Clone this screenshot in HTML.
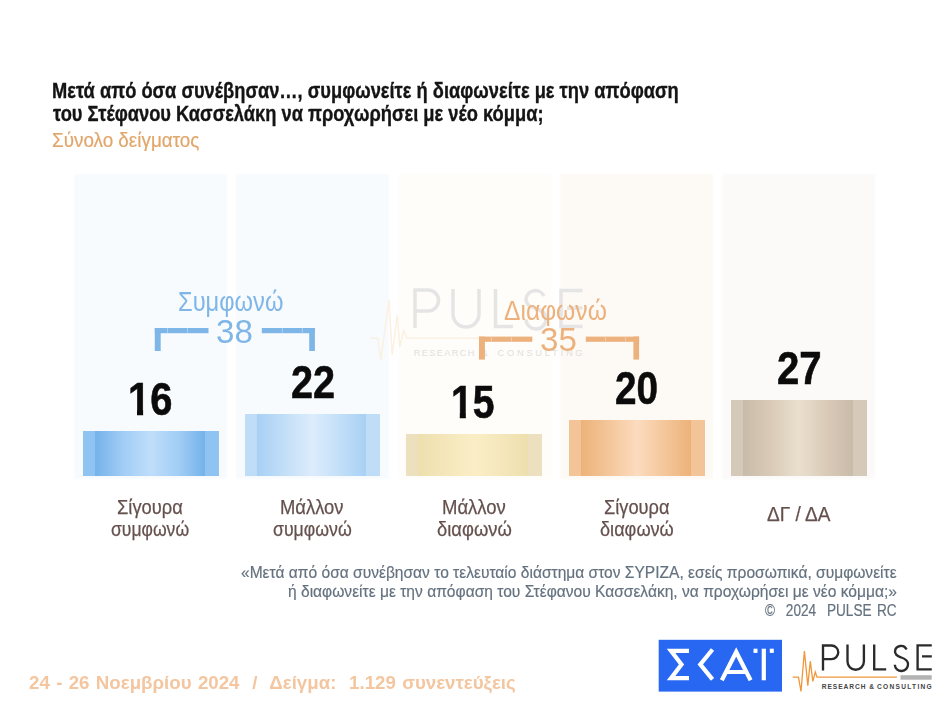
<!DOCTYPE html>
<html lang="el">
<head>
<meta charset="utf-8">
<title>Pulse RC</title>
<style>
html,body{margin:0;padding:0;background:#fff;}
body{width:949px;height:710px;position:relative;overflow:hidden;font-family:"Liberation Sans",sans-serif;}
.t{position:absolute;white-space:nowrap;transform-origin:0 0;line-height:1;}
.panel{position:absolute;top:174px;width:153px;height:304.5px;filter:blur(1px);}
.bar{position:absolute;}
.abs{position:absolute;left:0;top:0;}
</style>
</head>
<body>

<!-- panels -->
<div class="panel" style="left:74px;background:#f7fbfe;"></div>
<div class="panel" style="left:236px;background:#f7fbfe;"></div>
<div class="panel" style="left:398.3px;width:153.7px;background:#fefdfa;"></div>
<div class="panel" style="left:560px;background:#fdfaf5;"></div>
<div class="panel" style="left:722px;background:#fbfaf9;"></div>

<!-- watermark -->
<svg class="abs" width="949" height="710" viewBox="0 0 949 710" style="pointer-events:none">
  <g fill="none" stroke="#e5e5e5" stroke-width="3.5" stroke-linecap="butt" stroke-linejoin="miter">
    <path d="M415 328 V290 H428 a10.5 10.5 0 0 1 0 21 H415"/>
    <path d="M453 289 V314 a13 13 0 0 0 26 0 V289"/>
    <path d="M495.500 289 V326.5 H513"/>
    <path d="M544 296 a9.5 9.5 0 0 0 -18 3 c0 7 6 8 10 9.5 c5 1.800 10 4 10 10 a10 10 0 0 1 -20 1"/>
    <path d="M582.500 290.500 H561 V326.500 H582.500 M567 308 H582.500"/>
  </g>
  <polyline fill="none" stroke="#fcf0e1" stroke-width="1.500" points="370,338.300 377.700,338.300 380.800,359.700 389,300.200 392.200,354.700 397.300,315.400 399.800,347 403.600,330.600 406.800,338.300 479,338.300"/>
  <g font-family="Liberation Sans, sans-serif" font-size="9.2" font-weight="normal" fill="#e0e0e0">
    <text x="413.700" y="356.200" textLength="60.800" lengthAdjust="spacing">RESEARCH</text>
    <text x="481.500" y="356.200">&amp;</text>
    <text x="497.500" y="356.200" textLength="85" lengthAdjust="spacing">CONSULTING</text>
  </g>
</svg>

<!-- bars -->
<div class="bar" id="b1" style="left:82.5px;top:431.1px;width:136.3px;height:44.9px;background:linear-gradient(90deg,#8fc4f2 0%,#8fc4f2 8.5%,#74b2ea 8.7%,#a2cdf5 30%,#bfdefb 50%,#a2cdf5 70%,#74b2ea 89.8%,#8fc4f2 90.0%,#8fc4f2 100%);"></div>
<div class="bar" id="b2" style="left:244.8px;top:414.3px;width:135.2px;height:61.7px;background:linear-gradient(90deg,#c0ddf7 0%,#c0ddf7 8.5%,#a8d0f4 8.7%,#c3dff8 30%,#dcecfc 50%,#c3dff8 70%,#a8d0f4 89.8%,#c0ddf7 90.0%,#c0ddf7 100%);"></div>
<div class="bar" id="b3" style="left:406.2px;top:434px;width:136px;height:42px;background:linear-gradient(90deg,#ece0bf 0%,#ece0bf 8.5%,#eedfae 8.7%,#f5e7bb 30%,#fbeec6 50%,#f5e7bb 70%,#eedfae 89.8%,#ece0bf 90.0%,#ece0bf 100%);"></div>
<div class="bar" id="b4" style="left:569px;top:420px;width:136px;height:56px;background:linear-gradient(90deg,#f2c497 0%,#f2c497 8.5%,#ecb27a 8.7%,#f4c79b 30%,#fcdbbf 50%,#f4c79b 70%,#ecb27a 89.8%,#f2c497 90.0%,#f2c497 100%);"></div>
<div class="bar" id="b5" style="left:731px;top:400px;width:136px;height:75.5px;background:linear-gradient(90deg,#d5c9ba 0%,#d5c9ba 8.5%,#c9bba9 8.7%,#d9cbb8 30%,#eadfce 50%,#d9cbb8 70%,#c9bba9 89.8%,#d5c9ba 90.0%,#d5c9ba 100%);"></div>

<!-- brackets -->
<svg class="abs" width="949" height="710" viewBox="0 0 949 710" style="pointer-events:none">
  <g fill="#7fb6e8">
    <rect x="154.8" y="328" width="53.7" height="5.2"/>
    <rect x="154.8" y="328" width="5.9" height="23"/>
    <rect x="261.8" y="328" width="53.1" height="5.2"/>
    <rect x="309.2" y="328" width="5.7" height="23"/>
  </g>
  <rect x="167.0" y="328" width="0.8" height="5.2" fill="#b5d6f3"/><rect x="187.0" y="328" width="0.8" height="5.2" fill="#b5d6f3"/><rect x="281.9" y="328" width="0.8" height="5.2" fill="#b5d6f3"/><rect x="301.9" y="328" width="0.8" height="5.2" fill="#b5d6f3"/>
  <g fill="#ecb17c">
    <rect x="479" y="336.6" width="53.3" height="5.2"/>
    <rect x="479" y="336.6" width="5.9" height="23"/>
    <rect x="585.8" y="336.6" width="53.3" height="5.2"/>
    <rect x="633.4" y="336.6" width="5.7" height="23"/>
  </g>
  <rect x="491.2" y="336.6" width="0.8" height="5.2" fill="#f5d3b1"/><rect x="511.2" y="336.6" width="0.8" height="5.2" fill="#f5d3b1"/><rect x="605.0" y="336.6" width="0.8" height="5.2" fill="#f5d3b1"/><rect x="625.0" y="336.6" width="0.8" height="5.2" fill="#f5d3b1"/>
</svg>

<div class="t" id="t1" style="left:52.05px;top:79.55px;font-size:21.2px;color:#141414;transform:scaleX(0.8635);font-weight:bold;-webkit-text-stroke:0.35px #141414;">Μετά από όσα συνέβησαν…, συμφωνείτε ή διαφωνείτε με την απόφαση</div>
<div class="t" id="t2" style="left:53.20px;top:103.45px;font-size:21.2px;color:#141414;transform:scaleX(0.8636);font-weight:bold;-webkit-text-stroke:0.35px #141414;">του Στέφανου Κασσελάκη να προχωρήσει με νέο κόμμα;</div>
<div class="t" id="t3" style="left:52.24px;top:130.81px;font-size:19.6px;color:#e2a56a;transform:scaleX(0.9621);-webkit-text-stroke:0.2px #e2a56a;">Σύνολο δείγματος</div>
<div class="t" id="l1a" style="left:117.11px;top:496.78px;font-size:20.7px;color:#64504c;transform:scaleX(0.8862);-webkit-text-stroke:0.25px #64504c;">Σίγουρα</div>
<div class="t" id="l1b" style="left:111.33px;top:519.08px;font-size:20.7px;color:#64504c;transform:scaleX(0.8482);-webkit-text-stroke:0.25px #64504c;">συμφωνώ</div>
<div class="t" id="l2a" style="left:280.02px;top:496.78px;font-size:20.7px;color:#64504c;transform:scaleX(0.8899);-webkit-text-stroke:0.25px #64504c;">Μάλλον</div>
<div class="t" id="l2b" style="left:273.23px;top:519.08px;font-size:20.7px;color:#64504c;transform:scaleX(0.8548);-webkit-text-stroke:0.25px #64504c;">συμφωνώ</div>
<div class="t" id="l3a" style="left:442.21px;top:496.78px;font-size:20.7px;color:#64504c;transform:scaleX(0.8942);-webkit-text-stroke:0.25px #64504c;">Μάλλον</div>
<div class="t" id="l3b" style="left:437.11px;top:519.08px;font-size:20.7px;color:#64504c;transform:scaleX(0.8891);-webkit-text-stroke:0.25px #64504c;">διαφωνώ</div>
<div class="t" id="l4a" style="left:604.02px;top:496.78px;font-size:20.7px;color:#64504c;transform:scaleX(0.8821);-webkit-text-stroke:0.25px #64504c;">Σίγουρα</div>
<div class="t" id="l4b" style="left:599.92px;top:519.08px;font-size:20.7px;color:#64504c;transform:scaleX(0.8770);-webkit-text-stroke:0.25px #64504c;">διαφωνώ</div>
<div class="t" id="l5" style="left:767.29px;top:503.78px;font-size:20.7px;color:#64504c;transform:scaleX(0.9190);-webkit-text-stroke:0.25px #64504c;">ΔΓ / ΔΑ</div>
<div class="t" id="n1" style="left:127.61px;top:376.31px;font-size:46.3px;color:#0b0b0b;transform:scaleX(0.8617);font-weight:bold;-webkit-text-stroke:0.6px #0b0b0b;"><span style="display:inline-block;clip-path:polygon(0 0,0.6em 0,0.6em 0.722em,0.379em 0.722em,0.379em 1.1em,0.225em 1.1em,0.225em 0.722em,0 0.722em)">1</span>6</div>
<div class="t" id="n2" style="left:290.96px;top:359.11px;font-size:46.3px;color:#0b0b0b;transform:scaleX(0.8568);font-weight:bold;-webkit-text-stroke:0.6px #0b0b0b;">22</div>
<div class="t" id="n3" style="left:451.46px;top:379.01px;font-size:46.3px;color:#0b0b0b;transform:scaleX(0.8451);font-weight:bold;-webkit-text-stroke:0.6px #0b0b0b;"><span style="display:inline-block;clip-path:polygon(0 0,0.6em 0,0.6em 0.722em,0.379em 0.722em,0.379em 1.1em,0.225em 1.1em,0.225em 0.722em,0 0.722em)">1</span>5</div>
<div class="t" id="n4" style="left:615.28px;top:365.21px;font-size:46.3px;color:#0b0b0b;transform:scaleX(0.8363);font-weight:bold;-webkit-text-stroke:0.6px #0b0b0b;">20</div>
<div class="t" id="n5" style="left:777.24px;top:345.21px;font-size:46.3px;color:#0b0b0b;transform:scaleX(0.8669);font-weight:bold;-webkit-text-stroke:0.6px #0b0b0b;">27</div>
<div class="t" id="g1" style="left:177.86px;top:287.64px;font-size:27.6px;color:#7fb6e8;transform:scaleX(0.8584);">Συμφωνώ</div>
<div class="t" id="g1n" style="left:216.29px;top:314.67px;font-size:33.7px;color:#7fb6e8;transform:scaleX(0.9837);">38</div>
<div class="t" id="g2" style="left:504.31px;top:296.84px;font-size:27.6px;color:#ecb17c;transform:scaleX(0.8921);">Διαφωνώ</div>
<div class="t" id="g2n" style="left:540.49px;top:323.17px;font-size:33.7px;color:#ecb17c;transform:scaleX(0.9837);">35</div>
<div class="t" id="f1" style="left:240.80px;top:564.36px;font-size:17.3px;color:#64717f;transform:scaleX(0.9004);-webkit-text-stroke:0.2px #64717f;">«Μετά από όσα συνέβησαν το τελευταίο διάστημα στον ΣΥΡΙΖΑ, εσείς προσωπικά, συμφωνείτε</div>
<div class="t" id="f2" style="left:287.80px;top:583.36px;font-size:17.3px;color:#64717f;transform:scaleX(0.9010);-webkit-text-stroke:0.2px #64717f;">ή διαφωνείτε με την απόφαση του Στέφανου Κασσελάκη, να προχωρήσει με νέο κόμμα;»</div>
<div class="t" id="f3" style="left:764.94px;top:602.36px;font-size:17.3px;color:#64717f;transform:scaleX(0.7895);word-spacing:2px;-webkit-text-stroke:0.2px #64717f;">©&nbsp; 2024&nbsp; PULSE RC</div>
<div class="t" id="d1" style="left:28.91px;top:673.56px;font-size:18px;color:#f4c6a0;transform:scaleX(1.0387);font-weight:bold;word-spacing:1.1px;">24 - 26 Νοεμβρίου 2024&nbsp; /&nbsp; Δείγμα:&nbsp; 1.129 συνεντεύξεις</div>

<!-- logos -->
<svg class="abs" width="949" height="710" viewBox="0 0 949 710" style="pointer-events:none">
  <!-- SKAI -->
  <rect x="658.7" y="639.8" width="123.3" height="51.8" fill="#2767f2"/>
  <g fill="none" stroke="#fff" stroke-width="4.2" stroke-linejoin="miter" stroke-miterlimit="10">
    <path d="M689 650.8 H671 L681.5 664.4 L671 678.2 H689"/>
    <path d="M712.5 649.5 L700.3 664.4 L712.5 679.3"/>
    <path d="M721.8 680.3 L736.2 652 L750.6 680.3 M727.5 672 H745"/>
    <path d="M763.8 648.7 V680.3"/>
  </g>
  <rect x="753.5" y="648.7" width="4" height="4.2" fill="#fff"/>
  <rect x="769.8" y="648.7" width="4" height="4.2" fill="#fff"/>

  <!-- PULSE -->
  <g fill="none" stroke="#2b2b2b" stroke-width="2.35">
    <path d="M823 670.5 V645.5 H831.5 a6.8 6.8 0 0 1 0 13.6 H823"/>
    <path d="M847.5 644.5 V661.5 a8.2 8.2 0 0 0 16.4 0 V644.5"/>
    <path d="M874.200 644.500 V669.400 H886.200"/>
    <path d="M906.600 649.500 a6.1 6.1 0 0 0 -11.6 1.8 c0 4.6 3.8 5.2 6.4 6.2 c3.4 1.2 6.6 2.7 6.600 6.600 a6.600 6.600 0 0 1 -13.2 0.600"/>
    <path d="M931.800 645.300 H917.600 V669.400 H931.800 M922 656.300 H931.800"/>
  </g>
  <polyline fill="none" stroke="#f0973a" stroke-width="1.3" points="792.6,677.2 798.5,677.2 801,691.5 804.4,651 807.8,685.6 810.3,661.2 812.8,681.4 815.3,672 817,677.2 897,677.2"/>
  <rect x="900.5" y="675.2" width="31.2" height="4.5" fill="#b3b3b3"/>
  <g font-family="Liberation Sans, sans-serif" font-size="6.600" font-weight="bold" fill="#444">
    <text x="821.700" y="689.200" textLength="43.700" lengthAdjust="spacing">RESEARCH</text>
    <text x="869.300" y="689.200">&amp;</text>
    <text x="877" y="689.200" textLength="54.700" lengthAdjust="spacing">CONSULTING</text>
  </g>
</svg>

</body>
</html>
